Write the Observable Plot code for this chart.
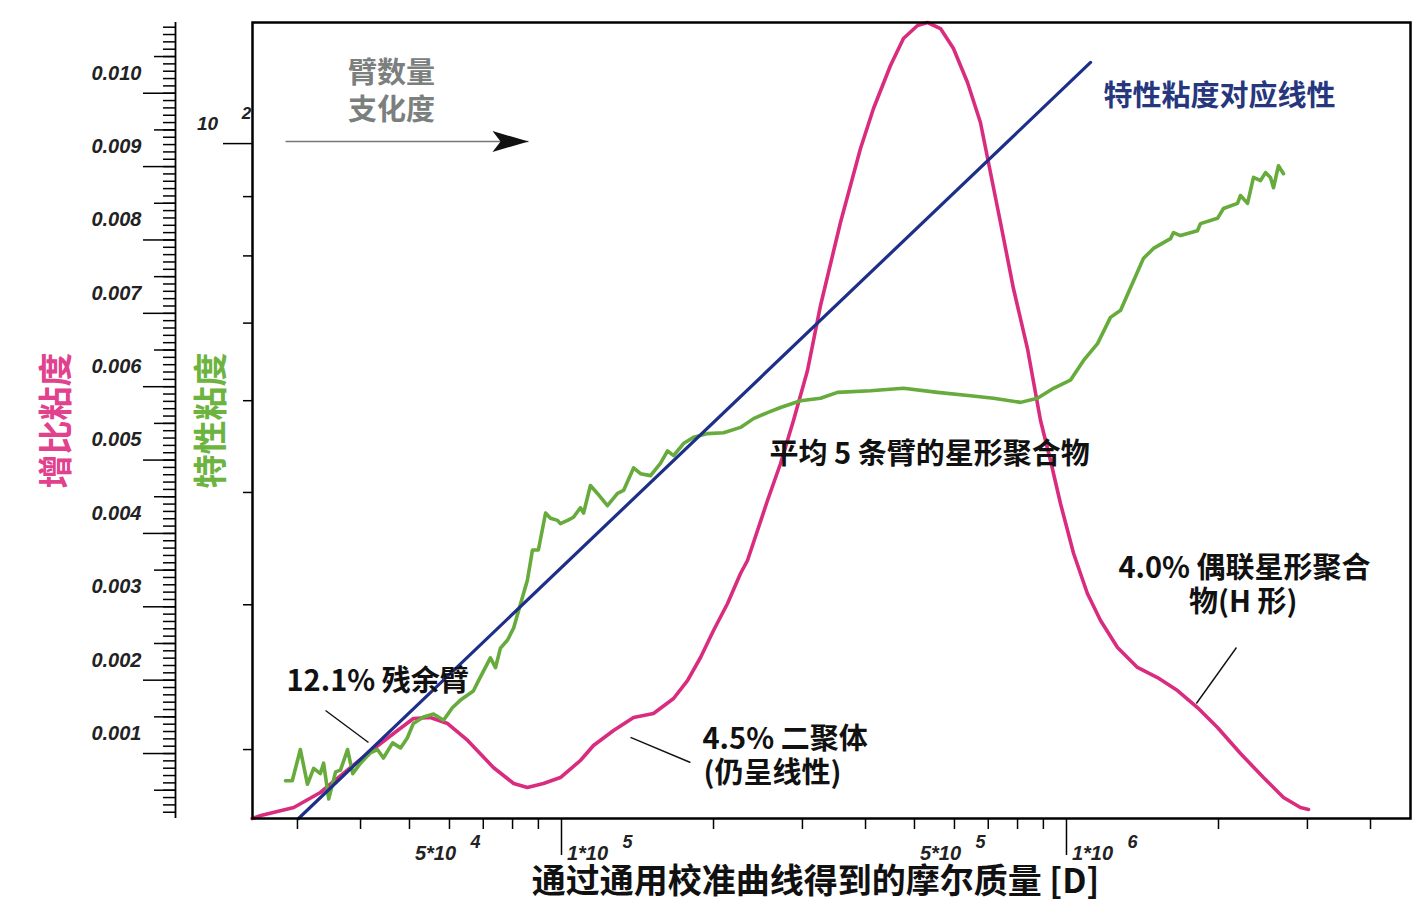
<!DOCTYPE html>
<html>
<head>
<meta charset="utf-8">
<script src="https://cdn.jsdelivr.net/npm/d3@7"></script>
<script src="https://cdn.jsdelivr.net/npm/@observablehq/plot@0.6"></script>
<style>
  html, body { margin: 0; padding: 0; background: #fff; }
  #chart { width: 1420px; height: 902px; }
</style>
</head>
<body>
<div id="chart"></div>
<script>
// ---- Concentration-weighted specific viscosity trace (left axis) ----
const pinkM = [24400, 25400, 29500, 33300, 37000, 41300, 46500, 50900, 55000, 59500, 65200, 73300, 80400, 85600, 92100, 99500,
  109000, 115700, 126800, 138900, 152100, 166700, 177600, 188500, 200000, 213200, 226200, 233500, 255800, 271500, 288000, 307000,
  325800, 356800, 390900, 414800, 448200, 475500, 507000, 530700, 563000, 597300, 636800, 675500, 740100, 785200, 837000, 888400,
  929700, 973000, 1033000, 1100000, 1168000, 1262000, 1382000, 1514000, 1659000, 1817000, 1991000, 2211000, 2455000, 2690000, 2906000, 3015000];
const pinkSV = [0.000114, 0.000155, 0.000264, 0.000469, 0.000728, 0.001000, 0.001273, 0.001478, 0.001491, 0.001409, 0.001178, 0.000810,
  0.000592, 0.000537, 0.000592, 0.000673, 0.000905, 0.001110, 0.001314, 0.001491, 0.001546, 0.001750, 0.001995, 0.002309, 0.002677,
  0.003045, 0.003454, 0.003631, 0.004449, 0.004953, 0.005539, 0.006221, 0.007107, 0.008238, 0.009247, 0.009792, 0.010378, 0.010746,
  0.010923, 0.010964, 0.010882, 0.010609, 0.010146, 0.009601, 0.008238, 0.007338, 0.006520, 0.005539, 0.004994, 0.004408, 0.003726,
  0.003181, 0.002813, 0.002445, 0.002173, 0.002036, 0.001859, 0.001627, 0.001355, 0.001000, 0.000673, 0.000401, 0.000264, 0.000237];

// ---- Intrinsic viscosity across the distribution (log axis) ----
const greenM = [28400, 29300, 30400, 31400, 32300, 33300, 33800, 34600, 35700, 36500, 37700, 38600, 40000, 41800, 43200, 44400,
  46300, 48000, 49500, 50900, 53300, 55800, 58400, 60800, 63100, 66900, 68500, 72300, 74000, 75700, 78200, 80400, 84100, 85600,
  87600, 90000, 93000, 95100, 98200, 99500, 102800, 105600, 109000, 110600, 114100, 117800, 123300, 129100, 132700, 138900, 143400,
  150100, 157100, 162200, 166700, 174400, 182600, 194600, 209400, 226200, 240000, 255800, 271500, 297400, 325800, 352000, 409100,
  475500, 555400, 645500, 716700, 811000, 876000, 942600, 1018000, 1081000, 1152000, 1222000, 1280000, 1339000, 1420000, 1487000,
  1607000, 1629000, 1682000, 1817000, 1842000, 1991000, 2046000, 2181000, 2211000, 2283000, 2346000, 2422000, 2478000, 2535000,
  2570000, 2629000, 2690000];
const greenIV = [28.2, 28.2, 30.0, 28.0, 28.9, 28.6, 29.2, 27.2, 28.7, 28.8, 30.0, 28.6, 29.2, 29.8, 30.0, 29.5, 30.4, 30.1, 30.7,
  31.6, 32.0, 32.2, 31.8, 32.6, 33.1, 33.7, 34.4, 36.0, 35.3, 36.7, 37.3, 38.2, 40.9, 42.0, 44.6, 44.6, 48.0, 47.5, 47.3, 47.0,
  47.3, 47.6, 48.5, 48.0, 50.7, 49.9, 48.7, 49.9, 50.2, 52.5, 51.9, 51.7, 53.0, 54.3, 53.8, 55.1, 55.8, 56.2, 56.3, 56.9, 57.9,
  58.6, 59.2, 60.0, 60.3, 61.0, 61.2, 61.5, 61.0, 60.6, 60.3, 59.8, 60.3, 61.5, 62.5, 65.0, 67.2, 70.8, 71.8, 75.1, 79.6, 81.2,
  82.8, 83.8, 83.3, 84.1, 85.3, 86.2, 87.9, 88.8, 90.2, 88.8, 93.5, 92.9, 94.4, 93.5, 91.6, 95.7, 94.2];

// ---- Linear reference line of intrinsic viscosity ----
const blueM = [30150, 1116000];
const blueIV = [26.16, 117.5];

// ---- Axis extents and ticks ----
const xDomain = [24440, 4800000];
const svDomain = [0.0001145, 0.010964];
const ivDomain = [26.16, 127.2];

const svMajor = [0.001, 0.002, 0.003, 0.004, 0.005, 0.006, 0.007, 0.008, 0.009, 0.010];
const svMid = [0.0005, 0.0015, 0.0025, 0.0035, 0.0045, 0.0055, 0.0065, 0.0075, 0.0085, 0.0095, 0.0105];
const svMinor = d3.range(2, 110).map(i => i / 10000);

const ivTicks = [30, 40, 50, 60, 70, 80, 90];
const ivMajor = [100];
const ivLabelBase = ["10"];
const ivLabelExp = ["2"];

const xMinor = [30000, 40000, 50000, 60000, 70000, 80000, 90000, 200000, 300000, 400000, 500000, 600000, 700000, 800000, 900000, 2000000, 3000000, 4000000];
const xMajor = [100000, 1000000];
const xLabelM = [50000, 100000, 500000, 1000000];
const xLabelBase = ["5*10", "1*10", "5*10", "1*10"];
const xLabelExp = ["4", "5", "5", "6"];

// ---- Titles ----
const xTitle = "通过通用校准曲线得到的摩尔质量 [D]";
const svTitle = "增比粘度";
const ivTitle = "特性粘度";

// ---- Annotations (anchored in molar mass / specific viscosity) ----
const annoText = ["12.1% 残余臂", "4.5% 二聚体", "(仍呈线性)", "平均 5 条臂的星形聚合物", "4.0% 偶联星形聚合", "物(H 形)", "特性粘度对应线性", "臂数量", "支化度"];
const annoM = [28540, 190200, 191100, 258200, 2252000, 2240000, 1184000, 46070, 46070];
const annoSV = [0.001982, 0.001191, 0.000728, 0.005076, 0.003522, 0.003059, 0.009955, 0.010269, 0.009765];
const annoAnchor = ["start", "start", "start", "start", "middle", "middle", "start", "middle", "middle"];
const annoColor = ["#111", "#111", "#111", "#111", "#111", "#111", "#27377d", "#7b807e", "#7b807e"];

const leaderM1 = [34100, 137000, 2171000];
const leaderSV1 = [0.001587, 0.001219, 0.002445];
const leaderM2 = [41480, 180000, 1808000];
const leaderSV2 = [0.001150, 0.000878, 0.001682];

const arrowM = [28410, 86030];
const arrowSV = 0.009342;

// ---- Colours ----
const PINK = "#d92c7e";
const PINK_TXT = "#e2418d";
const GREEN = "#66ab3c";
const GREEN_TXT = "#6db33f";
const NAVY = "#1d2f88";

// Secondary (log) axis mapped onto the primary y scale
const ivToSv = d3.scaleLog().domain(ivDomain).range(svDomain);

const pink = pinkM.map((m, i) => ({m, sv: pinkSV[i]}));
const green = greenM.map((m, i) => ({m, iv: greenIV[i]}));
const blue = blueM.map((m, i) => ({m, iv: blueIV[i]}));
const annos = annoText.map((t, i) => ({t, m: annoM[i], sv: annoSV[i], a: annoAnchor[i], c: annoColor[i]}));
const leaders = leaderM1.map((m, i) => ({m1: m, sv1: leaderSV1[i], m2: leaderM2[i], sv2: leaderSV2[i]}));
const xLabels = xLabelM.map((m, i) => ({m, base: xLabelBase[i], exp: xLabelExp[i]}));
const ivLabels = ivMajor.map((v, i) => ({v, base: ivLabelBase[i], exp: ivLabelExp[i]}));

// Stealth-style arrowhead with its tip at the symbol origin
const stealth = {
  draw(ctx, size) {
    const r = Math.sqrt(size / Math.PI);
    ctx.moveTo(0, 0);
    ctx.lineTo(-2 * r, -0.58 * r);
    ctx.lineTo(-1.55 * r, 0);
    ctx.lineTo(-2 * r, 0.58 * r);
    ctx.closePath();
  }
};

const NUM = "'Liberation Sans', Arial, sans-serif";
const CJK = "'Noto Sans CJK SC', 'Noto Sans', sans-serif";
const numText = {fontFamily: NUM, fontWeight: 700, fontStyle: "italic", fill: "#222"};
const cjkText = {fontFamily: CJK, fontWeight: 700};

const LEFT_AXIS_DX = -77;

const annoMark = anchor => Plot.text(annos.filter(d => d.a === anchor), {
  x: "m", y: "sv", text: "t", textAnchor: anchor, lineAnchor: "middle", fill: "c", fontSize: 29, ...cjkText
});

const chart = Plot.plot({
  width: 1420,
  height: 902,
  marginLeft: 252,
  marginRight: 10,
  marginTop: 22,
  marginBottom: 84,
  style: {background: "#fff", overflow: "visible"},
  x: {type: "log", domain: xDomain, axis: null},
  y: {type: "linear", domain: svDomain, axis: null},
  color: {type: "identity"},
  marks: [
    // data curves
    Plot.line(pink, {x: "m", y: "sv", stroke: PINK, strokeWidth: 3.6}),
    Plot.line(green, {x: "m", y: d => ivToSv(d.iv), stroke: GREEN, strokeWidth: 3.6}),
    Plot.line(blue, {x: "m", y: d => ivToSv(d.iv), stroke: NAVY, strokeWidth: 3.2}),

    // plot frame
    Plot.frame({stroke: "#000", strokeWidth: 2.5}),

    // bottom molar-mass axis
    Plot.axisX(xMinor, {anchor: "bottom", tickSize: 11, strokeWidth: 1.5, stroke: "#000", tickFormat: () => "", label: null}),
    Plot.axisX(xMajor, {anchor: "bottom", tickSize: 37, strokeWidth: 1.5, stroke: "#000", tickFormat: () => "", label: null}),
    Plot.text(xLabels, {x: "m", text: "base", frameAnchor: "bottom", textAnchor: "middle", lineAnchor: "middle", dx: 26, dy: 35, fontSize: 20, ...numText}),
    Plot.text(xLabels, {x: "m", text: "exp", frameAnchor: "bottom", textAnchor: "middle", lineAnchor: "middle", dx: 66, dy: 24, fontSize: 18, ...numText}),

    // far-left specific viscosity axis
    Plot.ruleX([xDomain[0]], {dx: LEFT_AXIS_DX, stroke: "#000", strokeWidth: 1.8}),
    Plot.axisY(svMinor, {anchor: "left", dx: LEFT_AXIS_DX, tickSize: 12, strokeWidth: 1.5, stroke: "#000", tickFormat: () => "", label: null}),
    Plot.axisY(svMid, {anchor: "left", dx: LEFT_AXIS_DX, tickSize: 21, strokeWidth: 1.5, stroke: "#000", tickFormat: () => "", label: null}),
    Plot.axisY(svMajor, {anchor: "left", dx: LEFT_AXIS_DX, tickSize: 32, strokeWidth: 1.5, stroke: "#000", tickFormat: () => "", label: null}),
    Plot.text(svMajor, {y: d => d, text: d => d3.format(".3f")(d), frameAnchor: "left", dx: LEFT_AXIS_DX - 34, dy: -20, textAnchor: "end", lineAnchor: "middle", fontSize: 20, ...numText}),

    // intrinsic viscosity axis (log) on the frame edge
    Plot.axisY(ivTicks.map(ivToSv), {anchor: "left", tickSize: 9, strokeWidth: 1.5, stroke: "#000", tickFormat: () => "", label: null}),
    Plot.axisY(ivMajor.map(ivToSv), {anchor: "left", tickSize: 29, strokeWidth: 1.5, stroke: "#000", tickFormat: () => "", label: null}),
    Plot.text(ivLabels, {y: d => ivToSv(d.v), text: "base", frameAnchor: "left", textAnchor: "middle", lineAnchor: "middle", dx: -45, dy: -20, fontSize: 19, ...numText}),
    Plot.text(ivLabels, {y: d => ivToSv(d.v), text: "exp", frameAnchor: "left", textAnchor: "middle", lineAnchor: "middle", dx: -6, dy: -30, fontSize: 17, ...numText}),

    // axis titles
    Plot.text([svTitle], {text: d => d, frameAnchor: "left", textAnchor: "middle", lineAnchor: "middle", dx: -195, rotate: -90, fontSize: 34, fill: PINK_TXT, ...cjkText}),
    Plot.text([ivTitle], {text: d => d, frameAnchor: "left", textAnchor: "middle", lineAnchor: "middle", dx: -40, rotate: -90, fontSize: 34, fill: GREEN_TXT, ...cjkText}),
    Plot.text([xTitle], {text: d => d, frameAnchor: "bottom", textAnchor: "middle", lineAnchor: "middle", dx: -16, dy: 64, fontSize: 34, fill: "#111", ...cjkText}),

    // branching arrow
    Plot.link([{m1: arrowM[0], m2: arrowM[1], sv: arrowSV}], {x1: "m1", x2: "m2", y1: "sv", y2: "sv", stroke: "#777", strokeWidth: 1.6}),
    Plot.dot([{m: arrowM[1], sv: arrowSV}], {x: "m", y: "sv", symbol: stealth, r: 18, fill: "#111", stroke: "none"}),

    // annotation leaders and labels
    Plot.link(leaders, {x1: "m1", y1: "sv1", x2: "m2", y2: "sv2", stroke: "#111", strokeWidth: 1.4}),
    annoMark("start"),
    annoMark("middle")
  ]
});

document.getElementById("chart").appendChild(chart);
</script>
</body>
</html>
